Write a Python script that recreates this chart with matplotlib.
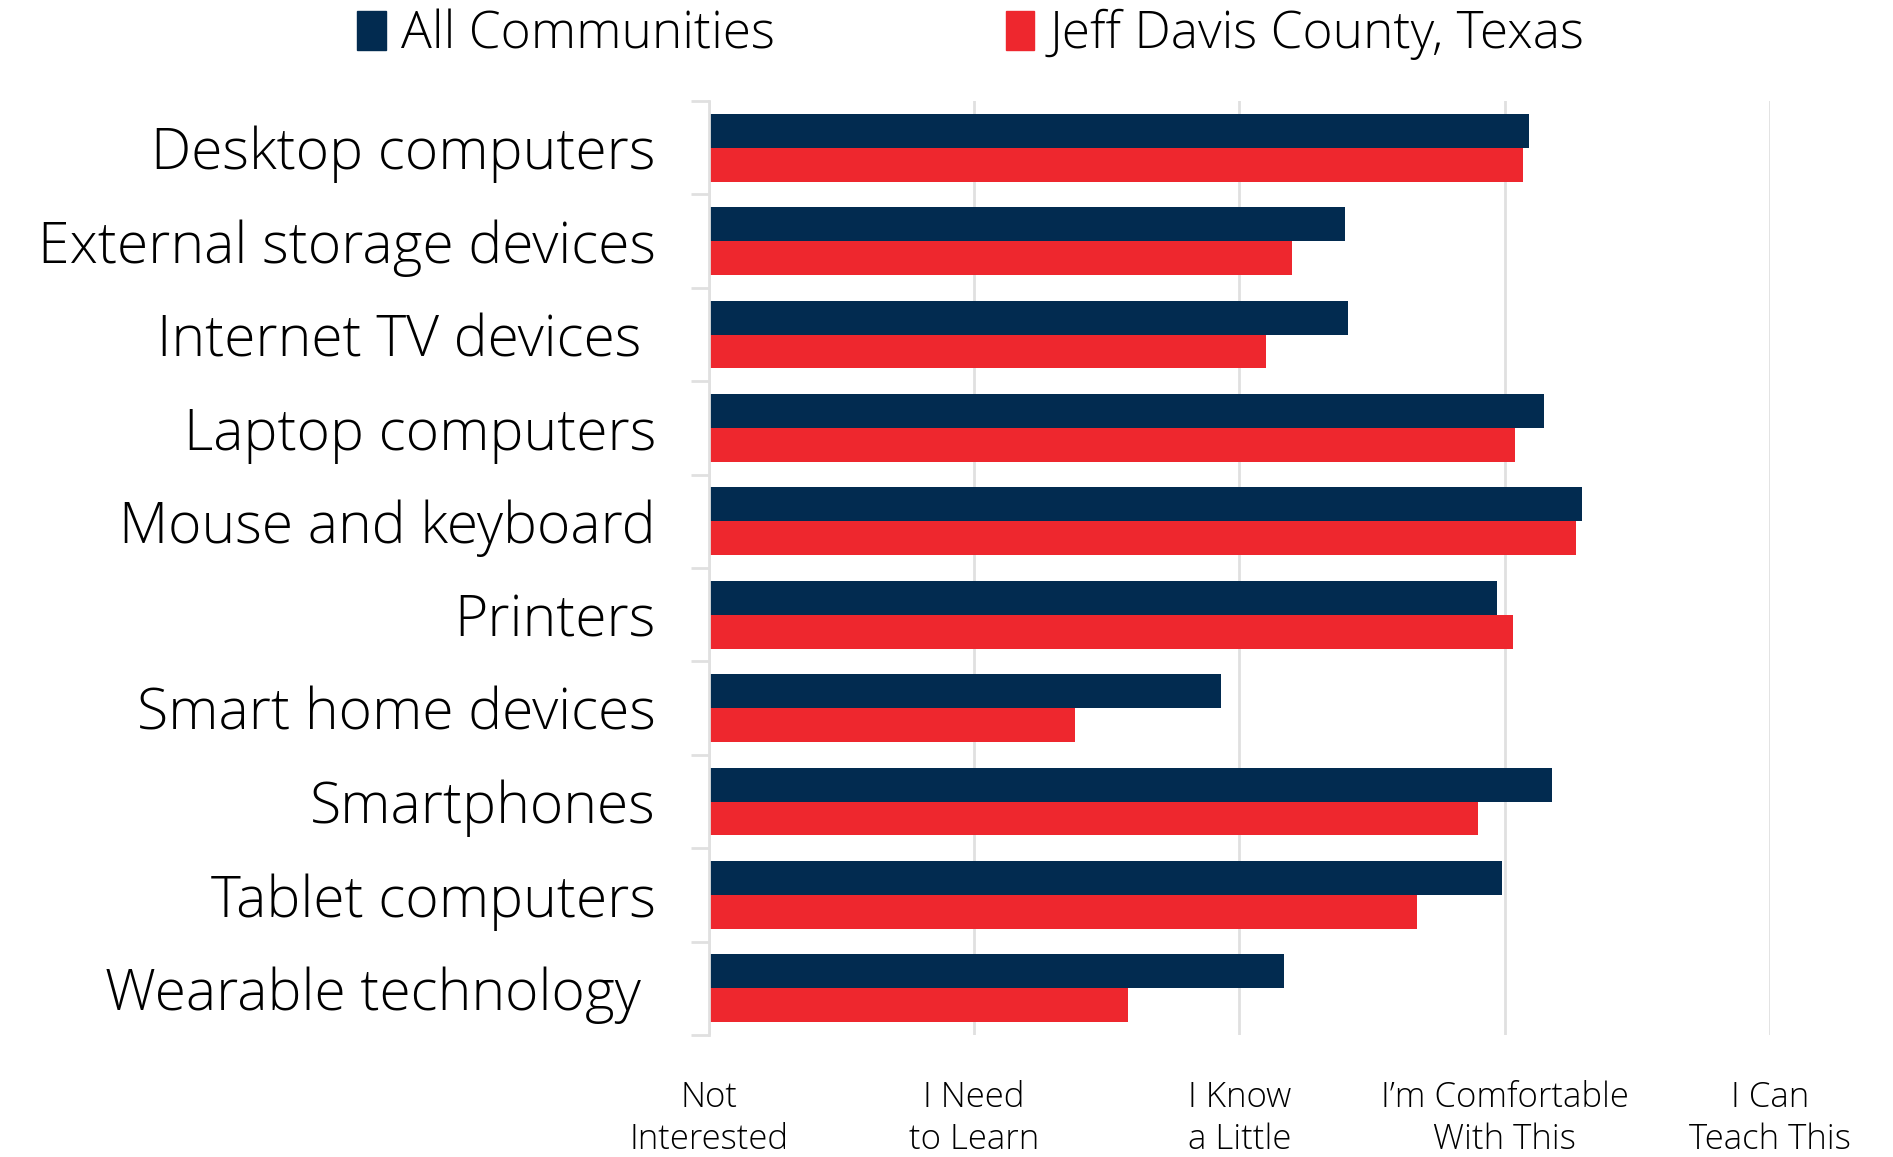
import numpy as np
import matplotlib
matplotlib.use("Agg")
import matplotlib.pyplot as plt
from matplotlib.patches import Patch

plt.rcParams['font.family'] = ['Open Sans', 'DejaVu Sans']
plt.rcParams['font.weight'] = 'light'

# Data (0 = Not Interested ... 4 = I Can Teach This)
devices = [
    "Desktop computers",
    "External storage devices",
    "Internet TV devices ",
    "Laptop computers",
    "Mouse and keyboard",
    "Printers",
    "Smart home devices",
    "Smartphones",
    "Tablet computers",
    "Wearable technology ",
]
all_communities = [3.09, 2.40, 2.41, 3.15, 3.29, 2.97, 1.93, 3.18, 2.99, 2.17]
jeff_davis = [3.07, 2.20, 2.10, 3.04, 3.27, 3.03, 1.38, 2.90, 2.67, 1.58]
scale_labels = ["Not\nInterested", "I Need\nto Learn", "I Know\na Little",
                "I\u2019m Comfortable\nWith This", "I Can\nTeach This"]

navy = "#022B50"
red = "#EE272E"
grid_col = "#E0E0E0"

fig = plt.figure(figsize=(18.93, 11.57), dpi=100)
ax = fig.add_axes([0.3744, 0.1054, 0.935 - 0.3744, 0.9127 - 0.1054])

y = np.arange(len(devices))
h = 0.363
ax.barh(y - h / 2, all_communities, height=h, color=navy, label="All Communities")
ax.barh(y + h / 2, jeff_davis, height=h, color=red, label="Jeff Davis County, Texas")

ax.set_xlim(0, 4)
ax.set_ylim(len(devices) - 0.5, -0.5)

ax.set_xticks(range(5))
ax.set_xticklabels(scale_labels, fontsize=25, linespacing=1.25)
ax.tick_params(axis='x', length=0, pad=33)
ax.xaxis.grid(True, color=grid_col, linewidth=2)
ax.set_axisbelow(True)

ax.set_yticks(y)
ax.set_yticklabels(devices, fontsize=41, va='center_baseline')
ax.tick_params(axis='y', which='major', length=0, pad=38)
ax.set_yticks(np.arange(-0.5, len(devices)), minor=True)
ax.tick_params(axis='y', which='minor', length=13, width=2, color=grid_col)

for s in ['top', 'right', 'bottom']:
    ax.spines[s].set_visible(False)
ax.spines['left'].set_color(grid_col)
ax.spines['left'].set_linewidth(2)

handles = [Patch(color=navy, label="All Communities"),
           Patch(color=red, label="Jeff Davis County, Texas")]
fig.legend(handles=handles, loc='center', bbox_to_anchor=(0.513, 0.970), ncol=2,
           frameon=False, fontsize=37, handlelength=0.55, handleheight=0.8,
           handletextpad=0.3, columnspacing=4.5)

fig.savefig("out.png", dpi=100)
